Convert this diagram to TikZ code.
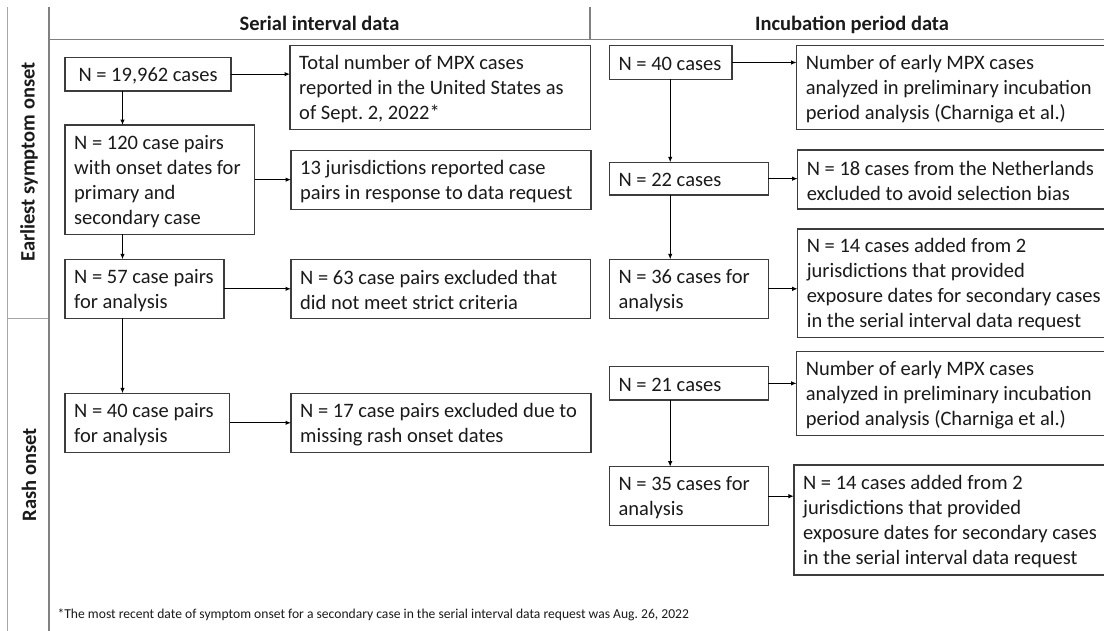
\documentclass[tikz,border=0pt]{standalone}
\usepackage{fontspec}
\setmainfont{Carlito}
\usetikzlibrary{arrows.meta,calc}
\definecolor{boxline}{HTML}{3C3C3C}
\definecolor{frameline}{HTML}{808080}
\definecolor{thinframe}{HTML}{A6A6A6}
\definecolor{txt}{HTML}{1A1A1A}
\newcommand\mkbox[6]{%
  \node[bx, minimum width={#4-#2}, minimum height={#5-#3}] (#1) at ({(#2+#4)/2},{(#3+#5)/2}) {};
  \node[tx, anchor=west] (#1t) at ([xshift=9pt,yshift=-1.5pt]#1.west) {#6};}
\begin{document}
\frenchspacing
\begin{tikzpicture}[x=1pt,y=-1pt,
  bx/.style={draw=boxline, line width=1.2pt, rectangle, inner sep=0pt, outer sep=0pt},
  tx/.style={align=left, inner sep=0pt, text=txt, font=\fontsize{20.5}{25}\selectfont\frenchspacing},
  hd/.style={inner sep=0pt, text=txt, font=\fontsize{20.5}{25}\selectfont\bfseries},
  arr/.style={draw=black, line width=1pt, -{Latex[length=5.5pt,width=4.5pt]}},
  frm/.style={draw=frameline, line width=1.5pt},
  thinfrm/.style={draw=thinframe, line width=1pt}]
\useasboundingbox[fill=white] (0,0) rectangle (1104,630);
% frame
\draw[thinfrm] (7.5,7) -- (7.5,632);
\draw[thinfrm] (7.5,318.5) -- (49,318.5);
\draw[frm] (49,7) -- (49,632);
\draw[frm] (49,39.3) -- (1110,39.3);
\draw[frm] (590,7) -- (590,39.3);
% headers
\node[hd, anchor=base] (hdrA) at (319.5,30) {Serial interval data};
\node[hd, anchor=base] (hdrB) at (852,30) {Incubation period data};
\node[hd, rotate=90] (rowA) at (29,162) {Earliest symptom onset};
\node[hd, rotate=90] (rowB) at (29,475) {Rash onset};
% serial interval column
\node[bx, minimum width={231-65}, minimum height={91-57.3}] (A1) at ({(65+231)/2},{(57.3+91)/2}) {};
\node[tx] (A1t) at ([yshift=-1.5pt]A1.center) {N = 19,962 cases};
\mkbox{A1R}{290}{45.7}{590.5}{129.3}{Total number of MPX cases\\reported in the United States as\\of Sept. 2, 2022*}
\mkbox{A2}{65}{125}{254.5}{234.3}{N = 120 case pairs\\with onset dates for\\primary and\\secondary case}
\mkbox{A2R}{291}{150.7}{591}{209.3}{13 jurisdictions reported case\\pairs in response to data request}
\mkbox{A3}{65}{259.3}{224}{318.3}{N = 57 case pairs\\for analysis}
\mkbox{A3R}{291}{259.3}{590.5}{318.3}{N = 63 case pairs excluded that\\did not meet strict criteria}
\mkbox{A4}{65}{393.3}{229.6}{452.3}{N = 40 case pairs\\for analysis}
\mkbox{A4R}{291}{393.3}{591}{452.7}{N = 17 case pairs excluded due to\\missing rash onset dates}
% incubation column
\mkbox{B1}{609.4}{45.7}{732}{79.3}{N = 40 cases}
\mkbox{B1R}{796.6}{45.7}{1115}{129.3}{Number of early MPX cases\\analyzed in preliminary incubation\\period analysis (Charniga et al.)}
\mkbox{B2}{609.4}{162.3}{768.2}{195}{N = 22 cases}
\mkbox{B2R}{797.6}{150}{1115}{209}{N = 18 cases from the Netherlands\\excluded to avoid selection bias}
\mkbox{B3}{609.4}{259.3}{768.2}{318.3}{N = 36 cases for\\analysis}
\mkbox{B3R}{797.6}{229}{1115}{337.7}{N = 14 cases added from 2\\jurisdictions that provided\\exposure dates for secondary cases\\in the serial interval data request}
\mkbox{B4}{609.4}{366.7}{768.2}{400}{N = 21 cases}
\mkbox{B4R}{796.6}{351.7}{1115}{435.7}{Number of early MPX cases\\analyzed in preliminary incubation\\period analysis (Charniga et al.)}
\mkbox{B5}{609.4}{466.7}{768.2}{525.7}{N = 35 cases for\\analysis}
\mkbox{B5R}{793.9}{465}{1115}{575}{N = 14 cases added from 2\\jurisdictions that provided\\exposure dates for secondary cases\\in the serial interval data request}
% vertical arrows
\draw[arr] ([xshift=57.5pt]A1.south west) -- ([xshift=57.5pt]A2.north west);
\draw[arr] ([xshift=57.5pt]A2.south west) -- ([xshift=57.5pt]A3.north west);
\draw[arr] ([xshift=57.5pt]A3.south west) -- ([xshift=57.5pt]A4.north west);
\draw[arr] ([xshift=60.8pt]B1.south west) -- ([xshift=60.8pt]B2.north west);
\draw[arr] ([xshift=60.8pt]B2.south west) -- ([xshift=60.8pt]B3.north west);
\draw[arr] ([xshift=60.8pt]B4.south west) -- ([xshift=60.8pt]B5.north west);
% horizontal arrows
\foreach \a/\b in {A1/A1R,A2/A2R,A3/A3R,A4/A4R,B1/B1R,B2/B2R,B3/B3R,B4/B4R,B5/B5R}
  \draw[arr] (\a.east) -- (\a.east -| \b.west);
% footnote
\node[anchor=base west, inner sep=0pt, text=txt, font=\fontsize{13.6}{16}\selectfont\frenchspacing] (fn) at (57.4,618) {*The most recent date of symptom onset for a secondary case in the serial interval data request was Aug. 26, 2022};
\end{tikzpicture}
\end{document}
